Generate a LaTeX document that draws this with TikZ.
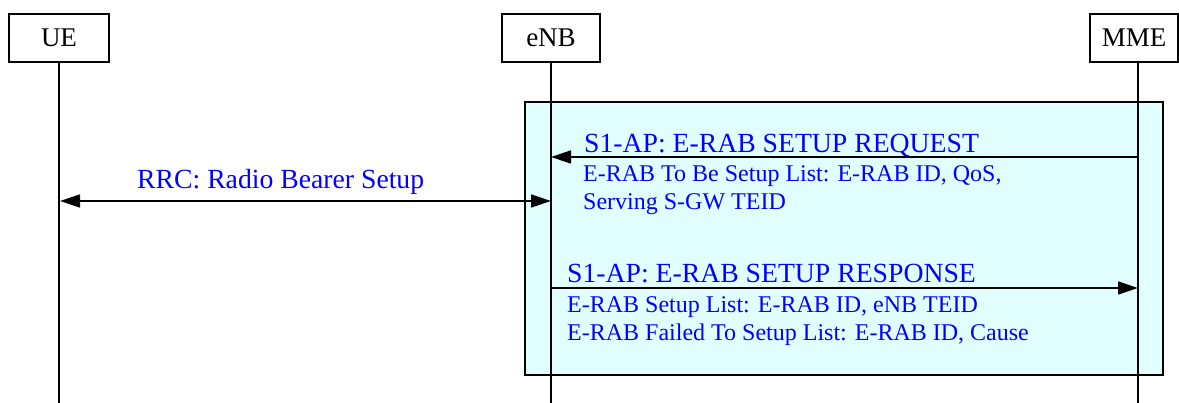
\documentclass[tikz,border=0pt]{standalone}
\usepackage{fontspec}
\setmainfont{Liberation Serif}
\usetikzlibrary{arrows.meta}
\definecolor{msgblue}{RGB}{0,0,255}
\definecolor{boxcyan}{RGB}{225,255,255}
\begin{document}
\begin{tikzpicture}[x=1pt,y=-1pt,
  entity/.style={draw,line width=2pt,fill=white,minimum width=100pt,minimum height=48pt,inner sep=0pt,font=\fontsize{27}{30}\selectfont},
  group/.style={draw,line width=1.2pt,fill=boxcyan,inner sep=0pt},
  lifeline/.style={line width=1.5pt},
  msg/.style={line width=1.5pt,-{Triangle[length=20pt,width=13pt]}},
  bimsg/.style={line width=1.5pt,{Triangle[length=20pt,width=13pt]}-{Triangle[length=20pt,width=13pt]}},
  head/.style={text=msgblue,anchor=base west,inner sep=0pt,font=\fontsize{27.7}{30}\selectfont},
  sub/.style={text=msgblue,anchor=base west,inner sep=0pt,font=\fontsize{24}{29}\selectfont},
]
\useasboundingbox (0,0) rectangle (1179,403);
\coordinate (bottom) at (0,403);
% participants
\node[entity] (ue) at (59,38) {UE};
\node[entity,minimum width=98pt] (enb) at (551,38) {eNB};
\node[entity,minimum width=88pt] (mme) at (1134,38) {MME};
% group box
\node[group,minimum width=638pt,minimum height=273pt] (grp) at (844,238.5) {};
% lifelines
\coordinate (mmetop) at (1138,62);
\draw[lifeline] (ue.south) -- (ue.south |- bottom);
\draw[lifeline] (enb.south) -- (enb.south |- bottom);
\draw[lifeline] (mmetop) -- (mmetop |- bottom);
% message points
\coordinate (reqM) at (1138,157);
\coordinate (reqE) at (551,157);
\coordinate (rrcU) at (60,201);
\coordinate (rrcE) at (551,201);
\coordinate (rspE) at (551,288);
\coordinate (rspM) at (1138,288);
\draw[msg] (reqM) -- (reqE);
\draw[bimsg] (rrcU) -- (rrcE);
\draw[msg] (rspE) -- (rspM);
% labels
\node[head] (reqL) at (584,153) {S1-AP: E-RAB SETUP REQUEST};
\node[sub] (reqS1) at (583,182) {E-RAB To Be Setup List: E-RAB ID, QoS,};
\node[sub] (reqS2) at (583,210) {Serving S-GW TEID};
\node[head] (rrcL) at (137,189) {RRC: Radio Bearer Setup};
\node[head] (rspL) at (567,283) {S1-AP: E-RAB SETUP RESPONSE};
\node[sub] (rspS1) at (567,313) {E-RAB Setup List: E-RAB ID, eNB TEID};
\node[sub] (rspS2) at (567,341) {E-RAB Failed To Setup List: E-RAB ID, Cause};
\end{tikzpicture}
\end{document}
